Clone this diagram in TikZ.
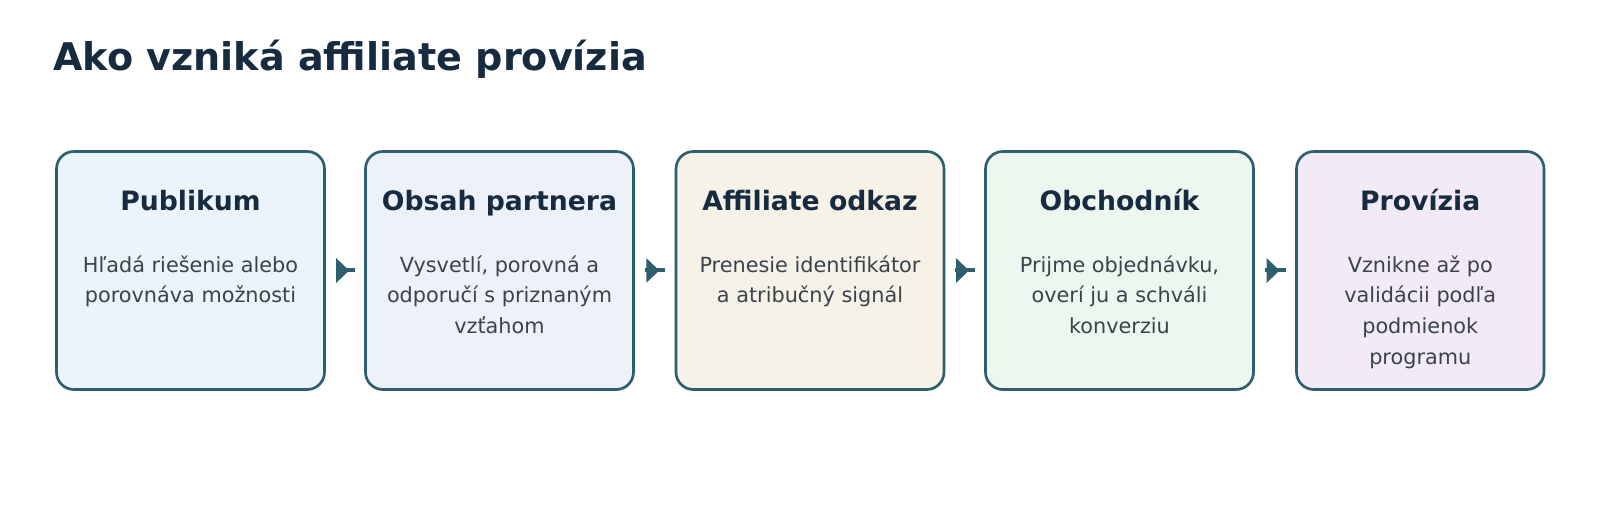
\documentclass[tikz,border=0pt]{standalone}
\usepackage{fontspec}
\setmainfont{DejaVu Sans}
\usepackage{tikz}
\usetikzlibrary{arrows.meta}
\usetikzlibrary{decorations,decorations.markings}
\definecolor{titlecol}{HTML}{162B40}
\definecolor{textcol}{HTML}{3A434C}
\definecolor{edgecol}{HTML}{2E5F6E}
\definecolor{fillA}{HTML}{EAF4FA}
\definecolor{fillB}{HTML}{EDF1FA}
\definecolor{fillC}{HTML}{F6F2E8}
\definecolor{fillD}{HTML}{EDF6EF}
\definecolor{fillE}{HTML}{F2EAF6}
\tikzstyle{flow>}=[decoration={markings, mark=at position 0.72 with {\arrow{Triangle[length=9.75pt,width=18pt]}}}, postaction={decorate}]
\tikzset{
  stepbox/.style={draw=edgecol, line width=2pt, rounded corners=13pt, inner sep=0pt, outer sep=0pt, minimum height=178.5pt, anchor=north west},
  headtext/.style={anchor=base, inner sep=0pt, text=titlecol, font=\fontsize{20}{24}\selectfont\bfseries},
  bodytext/.style={anchor=base, inner sep=0pt, text=textcol, align=center, font=\fontsize{15.6}{23}\selectfont},
}

\begin{document}
\begin{tikzpicture}[x=0.75pt,y=-0.75pt]
\useasboundingbox[fill=white] (0,0) rectangle (1600,520);
\node[anchor=base west, inner sep=0pt, text=titlecol, font=\fontsize{28.6}{34}\selectfont\bfseries] (title) at (53,71) {Ako vzniká affiliate provízia};
% last line of each text sits at 241.3 + 30.7*lines
\foreach \n/\x/\w/\col/\l/\head/\body in {
	1/56.5/268/fillA/2/Publikum/{Hľadá riešenie alebo\\porovnáva možnosti},
	2/365.5/268/fillB/3/Obsah partnera/{Vysvetlí, porovná a\\odporučí s priznaným\\vzťahom},
	3/676/268/fillC/2/Affiliate odkaz/{Prenesie identifikátor\\a atribučný signál},
	4/985.5/268/fillD/3/Obchodník/{Prijme objednávku,\\overí ju a schváli\\konverziu},
	5/1296.5/247.5/fillE/4/Provízia/{Vznikne až po\\validácii podľa\\podmienok\\programu}} {
	\node[stepbox, fill=\col, minimum width=\w*0.75pt] (b\n) at (\x,151.5) {};
	\node[headtext] (h\n) at (\x+\w/2,211) {\head};
	\node[bodytext] (t\n) at (\x+\w/2,241.3+30.7*\l) {\body};
}
\foreach \n [evaluate=\n as \m using int(\n+1)] in {1,...,4} {
	\draw[edgecol, line width=3pt, flow>] ([xshift=8.25pt]b\n.east) -- ([xshift=-8.25pt]b\m.west);
}
\end{tikzpicture}
\end{document}
